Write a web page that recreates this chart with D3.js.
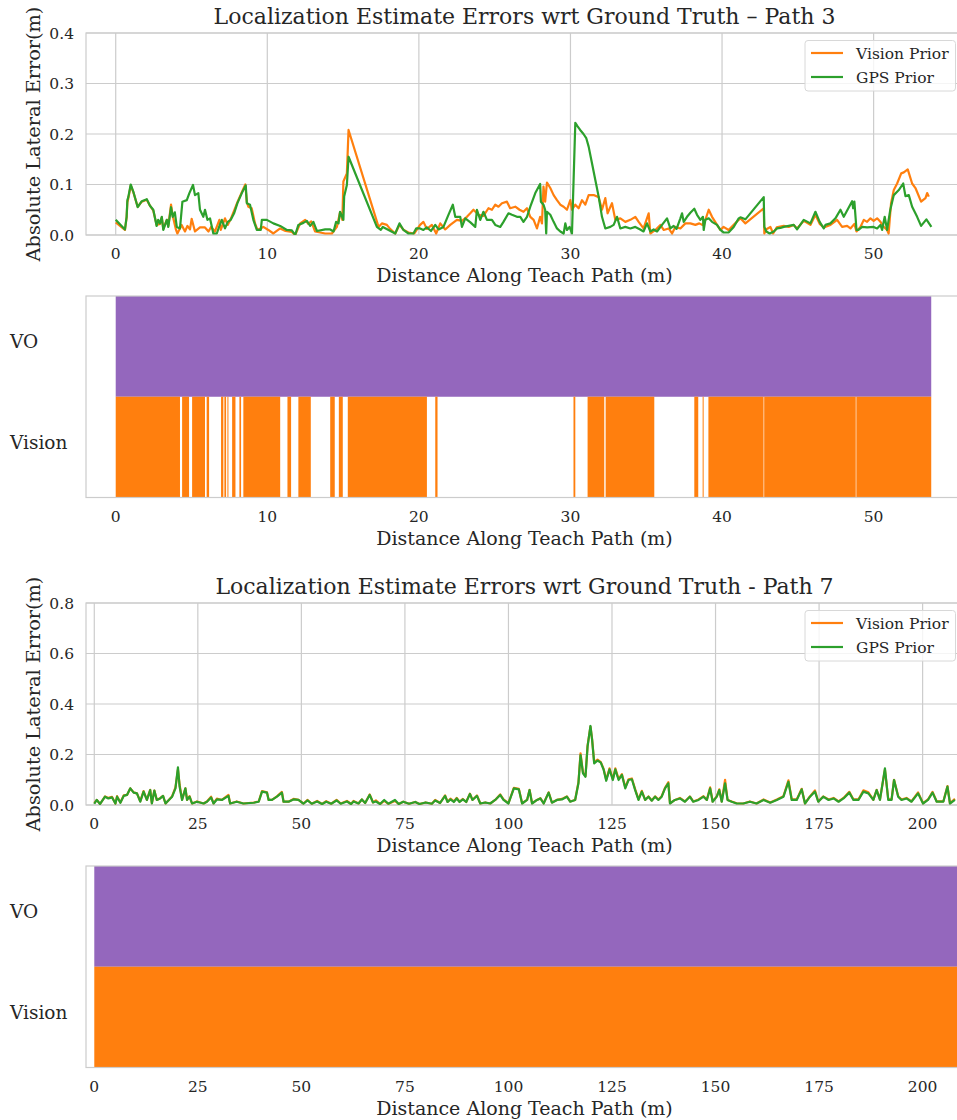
<!DOCTYPE html>
<html>
<head>
<meta charset="utf-8">
<script src="https://cdn.jsdelivr.net/npm/d3@7"></script>
<style>
  body { margin: 0; background: #fff; }
  text { font-family: "DejaVu Serif", serif; fill: #262626; }
</style>
</head>
<body>
<div id="fig"></div>
<script>
// ---- Path 3 : lateral error along teach path
var p3VisDist = [0,0.61,0.72,0.77,0.83,0.99,1.16,1.45,1.72,2.05,2.26,2.48,2.7,2.92,3.04,3.14,3.37,3.47,3.65,3.76,3.98,4.07,4.35,4.57,4.73,4.9,5.01,5.23,5.56,5.89,6.12,6.29,6.55,6.84,6.93,7.21,7.39,7.59,7.81,8.03,8.32,8.55,8.65,8.75,8.97,9.19,9.35,9.74,10.07,10.4,10.85,11.2,11.62,11.84,12.17,12.5,12.7,12.9,13.15,13.82,14.26,14.59,14.8,14.95,15.02,15.25,15.36,17.34,17.56,17.89,18.1,18.44,18.72,19.0,19.31,19.7,20.08,20.3,20.53,20.86,21.14,21.41,21.74,22.07,22.51,22.84,23.17,23.39,23.6,23.93,24.26,24.59,24.82,25.04,25.25,25.48,25.81,26.02,26.36,26.64,26.9,27.13,27.35,27.57,27.79,28.0,28.12,28.22,28.33,28.45,28.67,28.89,29.11,29.33,29.55,29.77,29.99,30.1,30.32,30.54,30.76,30.98,31.2,31.53,31.86,32.08,32.3,32.45,32.74,32.96,33.29,33.62,33.95,34.28,34.5,34.82,35.16,35.27,35.6,35.93,36.15,36.48,36.7,36.92,37.25,37.58,37.91,38.24,38.5,38.69,38.9,39.12,39.34,39.67,39.89,40.1,40.43,40.77,41.1,41.21,41.54,42.75,42.79,42.95,43.19,43.37,43.6,44.07,44.4,44.73,44.95,45.39,45.83,46.16,46.44,46.71,47.15,47.59,47.92,48.25,48.47,48.73,48.87,49.13,49.35,49.57,49.79,50.0,50.23,50.45,50.67,50.89,50.99,51.15,51.33,51.55,51.82,51.99,52.25,52.54,52.76,53.13,53.42,53.53,53.64];
var p3VisErr = [0.025,0.01,0.035,0.065,0.072,0.098,0.085,0.056,0.066,0.07,0.058,0.048,0.02,0.022,0.035,0.012,0.03,0.018,0.06,0.038,0.01,0.003,0.02,0.007,0.018,0.011,0.032,0.007,0.015,0.015,0.007,0.016,0.007,0.03,0.01,0.033,0.02,0.032,0.048,0.065,0.085,0.1,0.065,0.056,0.053,0.023,0.01,0.016,0.01,0.003,0.013,0.008,0.006,0.0,0.023,0.03,0.022,0.027,0.007,0.003,0.003,0.016,0.045,0.03,0.106,0.122,0.208,0.016,0.023,0.02,0.012,0.003,0.02,0.01,0.005,0.003,0.02,0.026,0.012,0.02,0.003,0.023,0.011,0.02,0.03,0.028,0.036,0.043,0.05,0.04,0.038,0.053,0.05,0.06,0.056,0.063,0.066,0.053,0.056,0.05,0.046,0.053,0.036,0.03,0.013,0.036,0.023,0.096,0.066,0.104,0.093,0.079,0.069,0.06,0.056,0.05,0.069,0.05,0.06,0.053,0.069,0.06,0.079,0.079,0.075,0.05,0.073,0.043,0.063,0.03,0.033,0.026,0.03,0.036,0.026,0.013,0.043,0.003,0.01,0.02,0.01,0.013,0.003,0.016,0.013,0.023,0.023,0.02,0.023,0.02,0.03,0.05,0.036,0.02,0.01,0.016,0.01,0.02,0.03,0.033,0.023,0.053,0.003,0.012,0.016,0.003,0.015,0.018,0.016,0.02,0.013,0.028,0.02,0.04,0.022,0.015,0.02,0.03,0.016,0.018,0.013,0.022,0.007,0.016,0.03,0.026,0.033,0.028,0.033,0.026,0.016,0.01,0.003,0.063,0.089,0.102,0.122,0.124,0.13,0.102,0.093,0.066,0.073,0.083,0.076];

var p3GpsDist = [0,0.61,0.72,0.77,0.83,0.99,1.16,1.45,1.72,2.05,2.26,2.48,2.7,2.8,2.92,3.04,3.14,3.37,3.47,3.65,3.76,3.9,4.03,4.24,4.4,4.69,4.86,5.1,5.23,5.45,5.56,5.78,5.89,6.05,6.22,6.44,6.67,6.82,7.0,7.21,7.39,7.59,7.81,8.03,8.32,8.58,8.65,8.86,9.08,9.31,9.57,9.64,9.97,10.4,10.85,11.29,11.62,11.84,12.05,12.38,12.61,12.83,13.04,13.27,13.82,14.15,14.37,14.54,14.7,14.8,15.02,15.07,15.25,15.36,17.23,17.49,17.62,18.0,18.44,18.72,18.98,19.31,19.64,19.82,20.08,20.3,20.53,20.8,21.08,21.3,21.62,21.95,22.24,22.4,22.73,22.84,23.06,23.4,23.72,23.83,24.05,24.26,24.49,24.82,25.04,25.37,25.58,25.91,26.14,26.47,26.69,26.9,27.13,27.35,27.68,28.0,28.05,28.22,28.33,28.4,28.45,28.67,28.89,29.11,29.33,29.55,29.66,29.77,29.94,30.1,30.32,30.47,30.64,30.86,31.04,31.2,31.42,31.64,31.86,32.08,32.3,32.63,32.85,33.07,33.29,33.62,33.95,34.28,34.6,34.82,35.05,35.27,35.49,35.71,36.04,36.37,36.59,36.81,37.0,37.25,37.36,37.47,37.69,37.91,38.17,38.35,38.57,38.74,38.79,38.9,39.12,39.34,39.67,39.89,40.1,40.43,40.77,41.1,41.21,41.54,42.75,42.79,42.92,43.14,43.41,43.63,43.85,44.07,44.4,44.73,44.95,45.39,45.83,46.16,46.44,46.71,46.82,47.15,47.48,47.81,48.03,48.58,48.65,48.73,48.87,49.0,49.24,49.57,50.0,50.23,50.45,50.56,50.73,50.89,50.99,51.1,51.33,51.66,51.95,52.1,52.32,52.54,52.87,53.13,53.48,53.81];
var p3GpsErr = [0.03,0.011,0.036,0.069,0.075,0.1,0.086,0.055,0.067,0.071,0.058,0.05,0.018,0.03,0.023,0.036,0.01,0.03,0.016,0.055,0.036,0.045,0.016,0.013,0.066,0.069,0.083,0.099,0.079,0.083,0.05,0.036,0.05,0.03,0.033,0.003,0.003,0.016,0.03,0.013,0.026,0.03,0.043,0.063,0.083,0.098,0.063,0.06,0.03,0.01,0.01,0.03,0.03,0.023,0.018,0.01,0.009,0.0,0.02,0.024,0.028,0.018,0.026,0.008,0.011,0.011,0.007,0.026,0.023,0.046,0.03,0.076,0.099,0.155,0.016,0.01,0.016,0.01,0.003,0.023,0.01,0.003,0.003,0.013,0.013,0.01,0.015,0.008,0.02,0.011,0.016,0.04,0.06,0.036,0.036,0.016,0.033,0.025,0.016,0.05,0.03,0.046,0.03,0.03,0.02,0.016,0.026,0.043,0.04,0.036,0.036,0.026,0.036,0.056,0.083,0.101,0.066,0.06,0.05,0.003,0.046,0.04,0.026,0.013,0.007,0.003,0.023,0.01,0.016,0.003,0.222,0.215,0.208,0.2,0.192,0.175,0.142,0.109,0.076,0.036,0.013,0.016,0.02,0.036,0.013,0.016,0.013,0.016,0.011,0.007,0.023,0.007,0.011,0.007,0.02,0.033,0.013,0.018,0.012,0.033,0.043,0.026,0.036,0.044,0.052,0.04,0.03,0.036,0.01,0.03,0.033,0.026,0.02,0.01,0.005,0.005,0.016,0.033,0.035,0.031,0.075,0.016,0.007,0.003,0.007,0.013,0.014,0.016,0.018,0.02,0.011,0.03,0.023,0.046,0.026,0.013,0.02,0.023,0.033,0.05,0.036,0.067,0.053,0.066,0.01,0.01,0.016,0.015,0.016,0.013,0.02,0.01,0.036,0.01,0.03,0.05,0.079,0.089,0.102,0.077,0.079,0.056,0.036,0.018,0.031,0.016];

// ---- Path 3 : localization source used (start, end in m)
var p3VoSegs = [[0, 53.8]];
var p3VisionSegs = [[0,4.24],[4.38,4.84],[5.04,5.89],[6.0,6.16],[6.95,7.1],[7.17,7.28],[7.37,7.43],[7.68,7.9],[8.16,8.27],[8.42,10.85],[11.33,11.57],[12.05,12.87],[14.15,14.45],[14.72,14.98],[15.31,20.53],[21.08,21.23],[30.2,30.32],[31.13,32.23],[32.32,35.53],[38.17,38.43],[38.72,38.77],[39.1,42.74],[42.78,48.82],[48.86,53.8]];

// ---- Path 7 : lateral error along teach path
var p7Dist = [0,0.6,1.4,2.6,3.4,4.3,5.1,5.5,6.3,7.1,7.9,8.7,9.5,10.3,11.1,11.9,12.7,13.5,13.9,14.5,15.1,15.9,16.6,17.2,18.0,18.8,19.6,20.2,20.6,21.2,22.0,22.4,23.0,23.6,24.8,26.4,27.2,28.2,28.8,29.6,30.8,32.4,32.8,34.4,36.0,38.5,39.7,40.5,41.7,42.1,42.9,44.1,45.3,45.7,46.9,48.1,49.3,50.5,51.5,52.5,53.8,55.0,56.0,57.2,58.5,59.5,61.0,62.0,62.6,63.8,64.6,65.4,66.5,67.3,68.0,69.0,70.0,71.0,72.6,73.5,74.6,76.0,77.5,78.5,80.0,81.5,82.3,83.5,84.7,85.3,86.0,86.8,87.5,88.2,89.0,89.8,90.7,91.3,92.4,93.2,94.4,95.6,96.8,98.0,98.8,100.0,101.3,102.5,103.3,104.5,105.1,105.7,106.9,107.7,108.5,109.7,110.5,111.7,112.9,114.1,114.9,116.1,116.9,117.4,118.0,118.6,119.1,119.8,120.2,120.7,121.5,122.3,123.0,123.6,124.4,125.2,125.8,126.6,127.4,128.2,129.0,129.8,130.6,131.4,132.2,133.0,133.8,134.6,135.4,136.2,137.0,137.8,138.6,139.0,140.2,141.4,142.6,143.8,144.6,145.9,147.1,147.9,148.7,149.3,150.3,150.9,151.5,152.3,152.9,153.9,155.1,156.7,158.3,159.9,161.6,163.2,164.8,166.4,167.6,168.4,169.6,170.8,171.6,172.8,174.0,174.8,176.0,177.3,178.5,179.7,180.9,182.3,183.3,184.5,185.7,186.9,188.1,188.9,189.7,190.9,191.7,192.5,193.1,194.1,194.9,196.1,197.3,198.9,200.1,201.3,202.4,203.4,205.0,206.0,206.6,207.8];
var p7VisErr = [0.008,0.02,0.004,0.034,0.028,0.032,0.006,0.035,0.01,0.038,0.04,0.066,0.05,0.046,0.015,0.055,0.02,0.06,0.007,0.057,0.02,0.027,0.036,0.006,0.02,0.035,0.07,0.14,0.08,0.022,0.066,0.02,0.035,0.006,0.014,0.006,0.014,0.033,0.006,0.025,0.02,0.04,0.006,0.014,0.006,0.01,0.014,0.055,0.05,0.02,0.02,0.034,0.052,0.013,0.013,0.024,0.02,0.006,0.02,0.005,0.016,0.004,0.015,0.005,0.02,0.006,0.016,0.004,0.016,0.006,0.022,0.008,0.042,0.01,0.018,0.004,0.016,0.005,0.016,0.004,0.013,0.005,0.012,0.004,0.01,0.005,0.02,0.008,0.038,0.012,0.025,0.014,0.028,0.013,0.024,0.012,0.045,0.02,0.038,0.006,0.01,0.006,0.02,0.042,0.022,0.007,0.068,0.064,0.007,0.02,0.06,0.007,0.02,0.027,0.007,0.05,0.01,0.02,0.024,0.034,0.014,0.02,0.09,0.205,0.128,0.115,0.235,0.31,0.26,0.17,0.18,0.17,0.142,0.1,0.145,0.103,0.145,0.103,0.122,0.07,0.102,0.105,0.062,0.022,0.056,0.02,0.034,0.018,0.034,0.022,0.035,0.068,0.09,0.007,0.02,0.028,0.014,0.034,0.014,0.022,0.035,0.02,0.07,0.014,0.034,0.062,0.014,0.1,0.02,0.014,0.007,0.006,0.014,0.006,0.022,0.01,0.022,0.035,0.098,0.022,0.022,0.064,0.006,0.034,0.058,0.014,0.034,0.022,0.028,0.014,0.028,0.052,0.022,0.022,0.058,0.05,0.02,0.06,0.022,0.14,0.022,0.022,0.1,0.035,0.022,0.028,0.014,0.05,0.007,0.022,0.052,0.014,0.014,0.075,0.007,0.025];
var p7GpsErr = [0.005,0.02,0.004,0.033,0.026,0.03,0.006,0.033,0.009,0.036,0.04,0.066,0.049,0.046,0.013,0.053,0.02,0.059,0.006,0.057,0.02,0.026,0.036,0.006,0.02,0.033,0.066,0.149,0.073,0.02,0.066,0.02,0.033,0.006,0.013,0.006,0.013,0.03,0.006,0.022,0.02,0.036,0.006,0.013,0.006,0.009,0.013,0.053,0.049,0.02,0.02,0.033,0.049,0.013,0.013,0.022,0.02,0.005,0.018,0.005,0.014,0.004,0.013,0.005,0.018,0.005,0.014,0.004,0.014,0.006,0.022,0.008,0.04,0.01,0.014,0.004,0.02,0.005,0.02,0.004,0.013,0.005,0.012,0.004,0.01,0.005,0.018,0.008,0.036,0.012,0.022,0.012,0.026,0.012,0.022,0.012,0.044,0.02,0.036,0.006,0.01,0.006,0.02,0.04,0.02,0.006,0.066,0.062,0.006,0.02,0.059,0.006,0.02,0.026,0.006,0.049,0.009,0.02,0.022,0.033,0.013,0.02,0.086,0.198,0.125,0.112,0.231,0.313,0.258,0.165,0.176,0.168,0.139,0.096,0.141,0.099,0.141,0.099,0.119,0.066,0.099,0.102,0.059,0.02,0.053,0.02,0.033,0.017,0.033,0.02,0.033,0.066,0.086,0.006,0.02,0.026,0.013,0.033,0.013,0.02,0.033,0.02,0.066,0.013,0.033,0.059,0.013,0.086,0.02,0.013,0.006,0.006,0.013,0.006,0.02,0.009,0.02,0.033,0.092,0.02,0.02,0.062,0.006,0.033,0.053,0.013,0.033,0.02,0.026,0.013,0.026,0.049,0.02,0.02,0.053,0.046,0.02,0.059,0.02,0.145,0.02,0.02,0.099,0.033,0.02,0.026,0.013,0.046,0.006,0.02,0.049,0.013,0.013,0.073,0.006,0.02];

// ---- Path 7 : localization source used
var p7VoSegs = [[0, 208.4]];
var p7VisionSegs = [[0, 208.4]];

var p3XTicks = [0, 10, 20, 30, 40, 50];
var p3YTicks = [0, 0.1, 0.2, 0.3, 0.4];
var p7XTicks = [0, 25, 50, 75, 100, 125, 150, 175, 200];
var p7YTicks = [0, 0.2, 0.4, 0.6, 0.8];
var seriesNames = ['Vision Prior', 'GPS Prior'];
var sourceNames = ['VO', 'Vision'];

var colors = { vision: '#ff7f0e', gps: '#2ca02c', vo: '#9467bd', grid: '#cccccc' };
var W = 957, H = 1120, L = 86, R = 957;

var svg = d3.select('#fig').append('svg')
    .attr('width', W).attr('height', H)
    .attr('viewBox', '0 0 ' + W + ' ' + H);

function zip(xs, ys){ return xs.map(function(d, i){ return [d, ys[i]]; }); }

function errorPanel(o){
  var x = d3.scaleLinear().domain(o.xdom).range([L, R]),
      y = d3.scaleLinear().domain(o.ydom).range([o.bottom, o.top]),
      g = svg.append('g'),
      fmt = d3.format('.1f');

  // grid
  g.selectAll('line.vg').data(o.xticks).enter().append('line')
    .attr('x1', x).attr('x2', x).attr('y1', o.top).attr('y2', o.bottom)
    .attr('stroke', colors.grid).attr('stroke-width', 1.2);
  g.selectAll('line.hg').data(o.yticks).enter().append('line')
    .attr('x1', L).attr('x2', R).attr('y1', y).attr('y2', y)
    .attr('stroke', colors.grid).attr('stroke-width', 1.2);
  g.append('rect').attr('x', L).attr('y', o.top)
    .attr('width', R - L + 1).attr('height', o.bottom - o.top)
    .attr('fill', 'none').attr('stroke', colors.grid).attr('stroke-width', 1.2);

  var clipId = 'clip' + o.id;
  g.append('clipPath').attr('id', clipId).append('rect')
    .attr('x', L).attr('y', o.top).attr('width', R - L).attr('height', o.bottom - o.top);

  var line = d3.line().x(function(d){ return x(d[0]); }).y(function(d){ return y(d[1]); });
  var series = [
    { pts: zip(o.visDist, o.visErr), color: colors.vision },
    { pts: zip(o.gpsDist, o.gpsErr), color: colors.gps }
  ];
  g.append('g').attr('clip-path', 'url(#' + clipId + ')')
    .selectAll('path').data(series).enter().append('path')
    .attr('d', function(d){ return line(d.pts); })
    .attr('fill', 'none').attr('stroke', function(d){ return d.color; })
    .attr('stroke-width', 2.2).attr('stroke-linejoin', 'round');

  // tick labels
  g.selectAll('text.xt').data(o.xticks).enter().append('text')
    .attr('x', x).attr('y', o.bottom + 24).attr('text-anchor', 'middle')
    .style('font-size', '15.5px').text(function(d){ return d; });
  g.selectAll('text.yt').data(o.yticks).enter().append('text')
    .attr('x', L - 12).attr('y', function(d){ return y(d) + 5.5; }).attr('text-anchor', 'end')
    .style('font-size', '15.5px').text(fmt);

  g.append('text').attr('x', (L + R) / 2 + 3).attr('y', o.top - 9)
    .attr('text-anchor', 'middle').style('font-size', '22px').text(o.title);
  g.append('text').attr('x', (L + R) / 2 + 3).attr('y', o.bottom + 47)
    .attr('text-anchor', 'middle').style('font-size', '19px').text('Distance Along Teach Path (m)');
  g.append('text')
    .attr('transform', 'translate(39.5,' + ((o.top + o.bottom) / 2) + ') rotate(-90)')
    .attr('text-anchor', 'middle').style('font-size', '19.3px').text('Absolute Lateral Error(m)');

  // legend
  var lg = g.append('g').attr('transform', 'translate(805,' + (o.top + 7.5) + ')');
  lg.append('rect').attr('width', 150.5).attr('height', 50.5).attr('rx', 3)
    .attr('fill', 'white').attr('fill-opacity', 0.8)
    .attr('stroke', '#d8d8d8').attr('stroke-width', 1);
  var items = lg.selectAll('g.item').data(seriesNames).enter().append('g')
    .attr('transform', function(d, i){ return 'translate(0,' + (12.5 + i * 24) + ')'; });
  items.append('line').attr('x1', 6).attr('x2', 38)
    .attr('stroke', function(d, i){ return i ? colors.gps : colors.vision; }).attr('stroke-width', 2.2);
  items.append('text').attr('x', 51).attr('y', 5.5).style('font-size', '15.5px').text(function(d){ return d; });
}

function sourcePanel(o){
  var x = d3.scaleLinear().domain(o.xdom).range([L, R]),
      y = d3.scaleBand().domain(sourceNames).range([o.top, o.bottom]),
      g = svg.append('g');

  var rows = [
    { name: 'VO', segs: o.vo, color: colors.vo },
    { name: 'Vision', segs: o.vision, color: colors.vision }
  ];
  g.selectAll('g.row').data(rows).enter().append('g')
    .each(function(r){
      d3.select(this).selectAll('rect').data(r.segs).enter().append('rect')
        .attr('x', function(d){ return x(d[0]); })
        .attr('width', function(d){ return Math.max(1, x(d[1]) - x(d[0])); })
        .attr('y', y(r.name)).attr('height', y.bandwidth())
        .attr('fill', r.color);
    });

  g.append('rect').attr('x', L).attr('y', o.top)
    .attr('width', R - L + 1).attr('height', o.bottom - o.top)
    .attr('fill', 'none').attr('stroke', colors.grid).attr('stroke-width', 1.2);

  g.selectAll('text.yl').data(sourceNames).enter().append('text')
    .attr('x', 10).attr('y', function(d){ return y(d) + y.bandwidth() / 2 + 1.5; })
    .style('font-size', '18.5px').text(function(d){ return d; });
  g.selectAll('text.xt').data(o.xticks).enter().append('text')
    .attr('x', x).attr('y', o.bottom + 24).attr('text-anchor', 'middle')
    .style('font-size', '15.5px').text(function(d){ return d; });
  g.append('text').attr('x', (L + R) / 2 + 3).attr('y', o.bottom + 47)
    .attr('text-anchor', 'middle').style('font-size', '19px').text('Distance Along Teach Path (m)');
}

errorPanel({ id: 3, xdom: [-1.96, 55.5], ydom: [0, 0.4], top: 33, bottom: 235,
  xticks: p3XTicks, yticks: p3YTicks,
  visDist: p3VisDist, visErr: p3VisErr, gpsDist: p3GpsDist, gpsErr: p3GpsErr,
  title: 'Localization Estimate Errors wrt Ground Truth \u2013 Path 3' });
sourcePanel({ xdom: [-1.96, 55.5], top: 296, bottom: 497.5, xticks: p3XTicks,
  vo: p3VoSegs, vision: p3VisionSegs });

errorPanel({ id: 7, xdom: [-2.0, 208.3], ydom: [0, 0.8], top: 603, bottom: 805,
  xticks: p7XTicks, yticks: p7YTicks,
  visDist: p7Dist, visErr: p7VisErr, gpsDist: p7Dist, gpsErr: p7GpsErr,
  title: 'Localization Estimate Errors wrt Ground Truth - Path 7' });
sourcePanel({ xdom: [-2.0, 208.3], top: 866, bottom: 1067.5, xticks: p7XTicks,
  vo: p7VoSegs, vision: p7VisionSegs });
</script>
</body>
</html>
